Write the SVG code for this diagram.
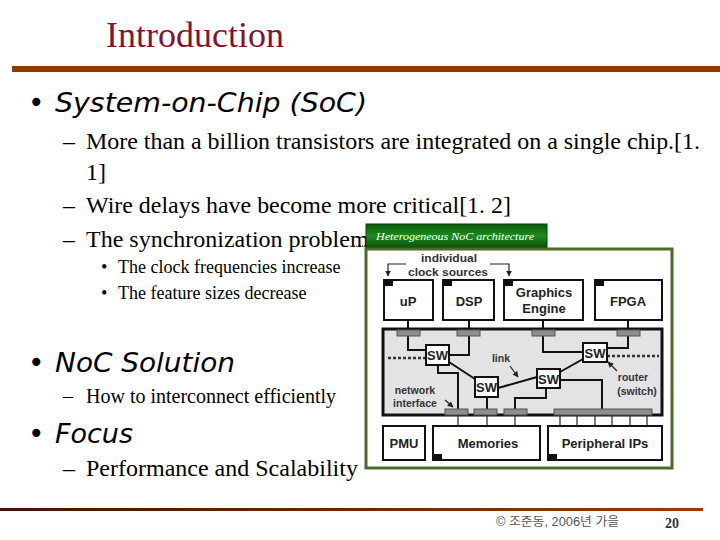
<svg xmlns="http://www.w3.org/2000/svg" width="720" height="540" viewBox="0 0 720 540">
<style>
.title{font-family:"Liberation Serif",serif;font-size:36px;fill:#7c1632}
.h1{font-family:"DejaVu Sans",sans-serif;font-style:italic;fill:#000}
.t{font-family:"Liberation Serif",serif;fill:#000}
.box{fill:#fff;stroke:#111;stroke-width:2}
.lbl{font-family:"Liberation Sans",Arial,sans-serif;font-weight:bold;font-size:13px;fill:#222;text-anchor:middle}
.sm{font-family:"Liberation Sans",Arial,sans-serif;font-weight:bold;font-size:10.5px;fill:#333;text-anchor:middle}
.ni{fill:#8e8e8e;stroke:#555;stroke-width:1}
.w{fill:none;stroke:#111;stroke-width:2}
.thin{fill:none;stroke:#222;stroke-width:1.2}
.corner{fill:#111}
.dot{fill:none;stroke:#333;stroke-width:2.5;stroke-dasharray:3 2}
</style>
<defs>
<linearGradient id="gl" x1="0" y1="0" x2="0" y2="1">
<stop offset="0" stop-color="#0b5c0b"/><stop offset="0.5" stop-color="#1f8a1f"/><stop offset="1" stop-color="#0a4f0a"/>
</linearGradient>
<linearGradient id="fl" x1="0" y1="0" x2="1" y2="0">
<stop offset="0" stop-color="#3a1606"/><stop offset="1" stop-color="#9a3a08"/>
</linearGradient>
<marker id="ah" viewBox="0 0 10 10" refX="9" refY="5" markerWidth="5" markerHeight="5" orient="auto">
<path d="M0,0 L10,5 L0,10 z" fill="#222"/>
</marker>
</defs>
<rect width="720" height="540" fill="#fff"/>

<g id="header">
<text class="title" x="106" y="47">Introduction</text>
<rect x="12" y="66" width="708" height="6" fill="#8f3a08"/>
</g>

<g id="bullets">
<text class="h1" x="28" y="112" font-size="28">•</text>
<text class="h1" x="55" y="112" font-size="27" textLength="312" lengthAdjust="spacingAndGlyphs">System-on-Chip (SoC)</text>
<text class="t" x="63" y="149" font-size="24">–</text>
<text class="t" x="86" y="149" font-size="24" textLength="614" lengthAdjust="spacingAndGlyphs">More than a billion transistors are integrated on a single chip.[1.</text>
<text class="t" x="86" y="180" font-size="24">1]</text>
<text class="t" x="63" y="213" font-size="24">–</text>
<text class="t" x="86" y="213" font-size="24" textLength="425" lengthAdjust="spacingAndGlyphs">Wire delays have become more critical[1. 2]</text>
<text class="t" x="63" y="247" font-size="24">–</text>
<text class="t" x="86" y="247" font-size="24">The synchronization problem</text>
<text class="t" x="101" y="273" font-size="18">•</text>
<text class="t" x="118" y="273" font-size="18">The clock frequencies increase</text>
<text class="t" x="101" y="299" font-size="18">•</text>
<text class="t" x="118" y="299" font-size="18">The feature sizes decrease</text>
<text class="h1" x="28" y="372" font-size="28">•</text>
<text class="h1" x="55" y="372" font-size="26" textLength="180" lengthAdjust="spacingAndGlyphs">NoC Solution</text>
<text class="t" x="63" y="403" font-size="20">–</text>
<text class="t" x="86" y="403" font-size="20">How to interconnect efficiently</text>
<text class="h1" x="28" y="443" font-size="28">•</text>
<text class="h1" x="55" y="443" font-size="26" textLength="78" lengthAdjust="spacingAndGlyphs">Focus</text>
<text class="t" x="63" y="476" font-size="24">–</text>
<text class="t" x="86" y="476" font-size="24">Performance and Scalability</text>
</g>

<g id="figure-frame">
<line x1="350" y1="246" x2="366" y2="246" stroke="#333" stroke-width="1" stroke-dasharray="1 1"/>
<rect x="366" y="224" width="181" height="24" fill="url(#gl)" stroke="#0a3f0a" stroke-width="1"/>
<text x="376" y="240" font-family="Liberation Serif,serif" font-style="italic" font-size="11" fill="#fff" textLength="158" lengthAdjust="spacingAndGlyphs">Heterogeneous NoC architecture</text>
<rect x="366" y="249" width="306" height="219" fill="#fff" stroke="#4c6a28" stroke-width="3"/>
</g>

<g id="clock-label">
<text class="sm" x="449" y="262" font-size="13" textLength="56" lengthAdjust="spacingAndGlyphs">individual</text>
<text class="sm" x="448" y="276" font-size="13" textLength="80" lengthAdjust="spacingAndGlyphs">clock sources</text>
</g>

<g id="network">
<rect x="383" y="329" width="279" height="86" fill="#e3e3e3" stroke="#111" stroke-width="3"/>
</g>

<g id="uP"><rect class="box" x="384" y="280" width="49" height="40"/><rect class="corner" x="384" y="280" width="9" height="6"/><text class="lbl" x="408" y="306">uP</text></g>
<g id="DSP"><rect class="box" x="443" y="280" width="51" height="40"/><rect class="corner" x="443" y="280" width="9" height="6"/><text class="lbl" x="469" y="306">DSP</text></g>
<g id="GraphicsEngine"><rect class="box" x="504" y="280" width="79" height="40"/><rect class="corner" x="504" y="280" width="9" height="6"/><text class="lbl" x="544" y="297">Graphics</text><text class="lbl" x="544" y="313">Engine</text></g>
<g id="FPGA"><rect class="box" x="595" y="280" width="67" height="40"/><rect class="corner" x="595" y="280" width="9" height="6"/><text class="lbl" x="628" y="306">FPGA</text></g>

<g id="PMU"><rect class="box" x="383" y="426" width="42" height="34"/><text class="lbl" x="404" y="448">PMU</text></g>
<g id="Memories"><rect class="box" x="433" y="426" width="107" height="34"/><rect class="corner" x="433" y="454" width="9" height="6"/><text class="lbl" x="488" y="448">Memories</text></g>
<g id="PeripheralIPs"><rect class="box" x="548" y="426" width="114" height="34"/><rect class="corner" x="548" y="454" width="9" height="6"/><text class="lbl" x="605" y="448">Peripheral IPs</text></g>

<g id="connectors">
<polyline class="thin" points="406,264 388,264 388,276" marker-end="url(#ah)"/>
<polyline class="thin" points="490,264 509,264 509,276" marker-end="url(#ah)"/>
<line class="w" x1="408" y1="320" x2="408" y2="331"/>
<line class="w" x1="469" y1="320" x2="469" y2="331"/>
<line class="w" x1="543" y1="320" x2="543" y2="331"/>
<line class="w" x1="628" y1="320" x2="628" y2="331"/>
<polyline class="w" points="408,336 408,350 426,350"/>
<polyline class="w" points="469,336 469,355 449,355"/>
<polyline class="w" points="543,336 543,352 583,352"/>
<polyline class="w" points="628,336 628,348 607,348"/>
<line class="dot" x1="388" y1="358" x2="426" y2="358"/>
<line class="dot" x1="607" y1="356" x2="659" y2="356"/>
<line class="w" x1="449" y1="362" x2="475" y2="379"/>
<line class="w" x1="498" y1="388" x2="537" y2="377"/>
<line class="w" x1="560" y1="372" x2="583" y2="359"/>
<polyline class="w" points="438,365 438,373 458,373 458,410"/>
<line class="w" x1="487" y1="397" x2="487" y2="410"/>
<polyline class="w" points="546,388 546,398 515,398 515,410"/>
<polyline class="w" points="560,380 602,380 602,410"/>
<line class="thin" x1="458" y1="415" x2="458" y2="426"/>
<line class="thin" x1="487" y1="415" x2="487" y2="426"/>
<line class="thin" x1="515" y1="415" x2="515" y2="426"/>
<line class="thin" x1="560" y1="415" x2="560" y2="426"/>
<line class="thin" x1="577" y1="415" x2="577" y2="426"/>
<line class="thin" x1="595" y1="415" x2="595" y2="426"/>
<line class="thin" x1="612" y1="415" x2="612" y2="426"/>
<line class="thin" x1="630" y1="415" x2="630" y2="426"/>
<line class="thin" x1="647" y1="415" x2="647" y2="426"/>
<line class="thin" x1="510" y1="366" x2="518" y2="377" marker-end="url(#ah)"/>
<line class="thin" x1="617" y1="371" x2="608" y2="362" marker-end="url(#ah)"/>
<line class="thin" x1="445" y1="400" x2="453" y2="407" marker-end="url(#ah)"/>
</g>

<g id="ni-bars">
<rect class="ni" x="397" y="330" width="23" height="6"/>
<rect class="ni" x="457" y="330" width="23" height="6"/>
<rect class="ni" x="532" y="330" width="23" height="6"/>
<rect class="ni" x="617" y="330" width="23" height="6"/>
<rect class="ni" x="445" y="409" width="23" height="6"/>
<rect class="ni" x="474" y="409" width="23" height="6"/>
<rect class="ni" x="504" y="409" width="23" height="6"/>
<rect class="ni" x="554" y="409" width="98" height="6"/>
</g>

<g id="SW1"><rect class="box" x="426" y="345" width="23" height="20"/><text class="lbl" x="437.5" y="360">SW</text></g>
<g id="SW2"><rect class="box" x="475" y="377" width="23" height="20"/><text class="lbl" x="486.5" y="392">SW</text></g>
<g id="SW3"><rect class="box" x="537" y="369" width="23" height="19"/><text class="lbl" x="548.5" y="384">SW</text></g>
<g id="SW4"><rect class="box" x="583" y="343" width="24" height="19"/><text class="lbl" x="595" y="358">SW</text></g>

<g id="annotations">
<text class="sm" x="501" y="362">link</text>
<text class="sm" x="633" y="381">router</text>
<text class="sm" x="637" y="395">(switch)</text>
<text class="sm" x="415" y="394">network</text>
<text class="sm" x="415" y="407">interface</text>
</g>

<g id="footer">
<rect x="0" y="508" width="703" height="3" fill="url(#fl)"/>
<text x="496" y="526" font-family="Liberation Sans,'Noto Sans CJK KR',sans-serif" font-size="12" fill="#555" textLength="123" lengthAdjust="spacingAndGlyphs">© 조준동, 2006년 가을</text>
<text x="665" y="528" font-family="Liberation Serif,serif" font-weight="bold" font-size="14" fill="#333">20</text>
</g>
</svg>
